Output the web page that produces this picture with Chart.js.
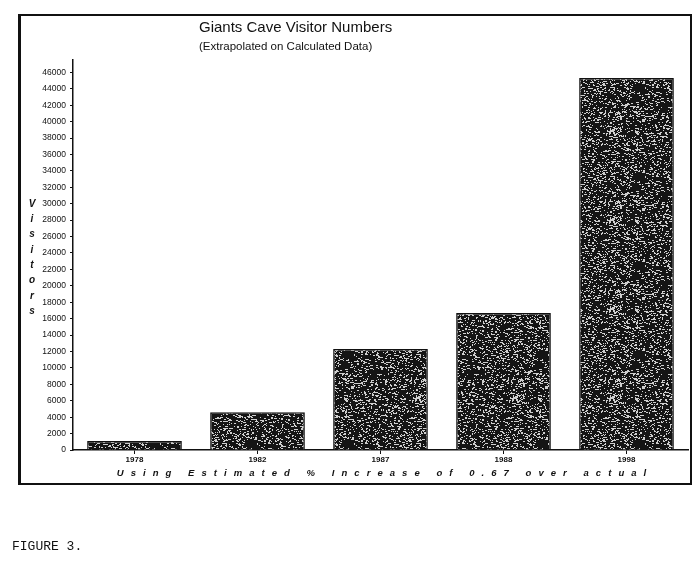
<!DOCTYPE html>
<html>
<head>
<meta charset="utf-8">
<script src="https://cdn.jsdelivr.net/npm/chart.js@4/dist/chart.umd.min.js"></script>
<style>
  html, body { margin: 0; padding: 0; background: #fff; }
  #wrap { position: relative; width: 700px; height: 568px; }
</style>
</head>
<body>
<div id="wrap"><canvas id="cc" width="700" height="568"></canvas></div>
<script>
const years = ["1978", "1982", "1987", "1988", "1998"];
const visitors = [1100, 4600, 12300, 16700, 45300];
const yTicks = [0, 2000, 4000, 6000, 8000, 10000, 12000, 14000, 16000, 18000, 20000, 22000,
	24000, 26000, 28000, 30000, 32000, 34000, 36000, 38000, 40000, 42000, 44000, 46000];
const titleText = "Giants Cave Visitor Numbers";
const subtitleText = "(Extrapolated on Calculated Data)";
const yTitle = "Visitors";
const xTitle = "Using Estimated % Increase of 0.67 over actual";
const figLabel = "FIGURE 3.";

// speckled photocopy texture for the bars
function speckle() {
	let c = document.createElement("canvas");
	c.width = 97; c.height = 89;
	let g = c.getContext("2d");
	g.fillStyle = "#141414";
	g.fillRect(0, 0, 97, 89);
	let s = 987654321;
	function next() {
		s = (Math.imul(s, 1664525) + 1013904223) >>> 0;
		return s / 4294967296;
	}
	g.fillStyle = "#cfcfcf";
	for (let i = 0; i < 1500; i++) {
		let x = Math.floor(next() * 97);
		let y = Math.floor(next() * 89);
		g.fillRect(x, y, next() < 0.4 ? 2 : 1, 1);
	}
	return g.createPattern(c, "repeat");
}

const decor = {
	id: "decor",
	afterDraw(chart) {
		let ctx = chart.ctx;
		ctx.save();
		// frame
		ctx.strokeStyle = "#111";
		ctx.lineWidth = 2;
		ctx.strokeRect(19, 15, 672, 469);
		ctx.fillStyle = "#111";
		ctx.fillRect(18, 15, 3, 469);

		ctx.fillStyle = "#111";
		ctx.textBaseline = "middle";
		ctx.textAlign = "left";
		ctx.font = "15px 'Liberation Sans', Arial, sans-serif";
		ctx.fillText(titleText, 199, 28);
		ctx.font = "11.5px 'Liberation Sans', Arial, sans-serif";
		ctx.fillText(subtitleText, 199, 47);

		// vertical axis title, one letter per line
		ctx.font = "italic bold 10px 'Liberation Sans', Arial, sans-serif";
		ctx.textAlign = "center";
		for (let i = 0; i < yTitle.length; i++) {
			ctx.fillText(yTitle[i], 32, 204 + i * 15.3);
		}

		// spaced caption below the years
		ctx.font = "italic bold 9.5px 'Liberation Sans', Arial, sans-serif";
		ctx.letterSpacing = "7.05px";
		ctx.textAlign = "center";
		ctx.fillText(xTitle, 385, 473);
		ctx.letterSpacing = "0px";

		ctx.font = "13px 'Liberation Mono', 'DejaVu Sans Mono', monospace";
		ctx.textAlign = "left";
		ctx.fillText(figLabel, 12, 547);
		ctx.restore();
	}
};

let chartId = document.getElementById("cc");
let chart = new Chart(chartId, {
	type: "bar",
	data: {
		labels: years,
		datasets: [
			{
				label: "Visitors",
				data: visitors,
				backgroundColor: speckle(),
				borderColor: "#111",
				borderWidth: 1.5,
				barPercentage: 0.77,
				categoryPercentage: 1.0
			}
		]
	},
	options: {
		responsive: false,
		animation: false,
		layout: { padding: { left: 20, top: 60, right: 12, bottom: 0 } },
		plugins: {
			legend: { display: false },
			tooltip: { enabled: false }
		},
		scales: {
			x: {
				afterFit: function(s) { s.height = 118; },
				border: { display: true, color: "#111", width: 1.5 },
				grid: { display: true, offset: false, drawOnChartArea: false, color: "#111", tickLength: 4 },
				ticks: {
					color: "#111",
					padding: 1,
					font: { family: "'Liberation Sans', Arial, sans-serif", size: 8, weight: "bold" }
				}
			},
			y: {
				min: 0,
				max: 47500,
				afterFit: function(s) { s.width = 53; },
				afterBuildTicks: function(s) {
					s.ticks = yTicks.map(v => ({ value: v }));
				},
				border: { display: true, color: "#111", width: 1.5 },
				grid: { display: true, drawOnChartArea: false, color: "#111", tickLength: 3 },
				ticks: {
					autoSkip: false,
					color: "#111",
					padding: 4,
					callback: function(v) { return String(v); },
					font: { family: "'Liberation Sans', Arial, sans-serif", size: 8.5 }
				}
			}
		}
	},
	plugins: [decor]
});
</script>
</body>
</html>
